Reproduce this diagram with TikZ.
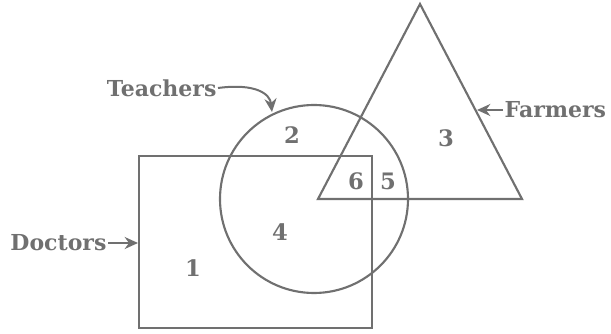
\documentclass[tikz,border=0pt]{standalone}
\usepackage{fontspec}
\setmainfont{DejaVu Serif}
\usetikzlibrary{arrows.meta}
\definecolor{inkgray}{RGB}{112,112,112}

\begin{document}
\begin{tikzpicture}[x=0.75pt,y=-0.75pt,
    outline/.style={line width=1.6pt,draw=inkgray},
    pointer/.style={line width=1.5pt,draw=inkgray,-{Stealth[length=10pt,width=9pt]}},
    setname/.style={font=\fontsize{16.5}{18}\selectfont\bfseries,text=inkgray,inner sep=1pt},
    region/.style={font=\fontsize{17}{19}\selectfont\bfseries,text=inkgray}]
  \useasboundingbox (0,0) rectangle (611,334);

  % --- the three sets: doctors, teachers, farmers ---
  \draw[outline] (139,156) rectangle (372,328);
  \draw[outline] (314,199) circle [x radius=94,y radius=94];
  \draw[outline] (420,4) -- (318,199) -- (522,199) -- cycle;

  % --- where the pointers touch the outlines ---
  \coordinate (doc) at (138,243);
  \coordinate (tch) at (272,112);
  \coordinate (frm) at (477,110);

  % --- names of the sets ---
  \node[setname,anchor=east] (doctors)  at (108,243) {Doctors};
  \node[setname,anchor=east] (teachers) at (218,88)  {Teachers};
  \node[setname,anchor=west] (farmers)  at (503,110) {Farmers};

  \draw[pointer] (doctors.east) -- (doc);
  \draw[pointer] (teachers.east) .. controls (256,83) and (270,94) .. (tch);
  \draw[pointer] (farmers.west) -- (frm);

  % --- the regions ---
  \node[region] (r1) at (193,268) {1};
  \node[region] (r2) at (292,135) {2};
  \node[region] (r3) at (446,138) {3};
  \node[region] (r4) at (280,232) {4};
  \node[region] (r5) at (388,181) {5};
  \node[region] (r6) at (356,181) {6};
\end{tikzpicture}
\end{document}
